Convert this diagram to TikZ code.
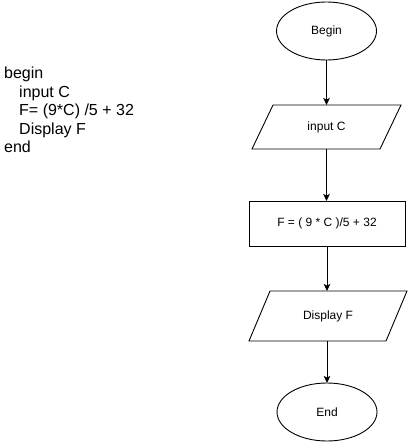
\documentclass[tikz,border=0pt]{standalone}
\usepackage{fontspec}
\setmainfont{Liberation Sans}
\usetikzlibrary{shapes.geometric,arrows.meta}

\tikzset{
  flowline/.style={draw=black, line width=0.9pt},
  nodefont/.style={font=\fontsize{12}{14}\selectfont},
  terminal/.style={flowline, ellipse, minimum width=100pt, minimum height=58pt,
    inner sep=0pt, outer sep=0pt, nodefont},
  process/.style={flowline, rectangle, minimum width=156pt, minimum height=45pt,
    inner sep=0pt, outer sep=0pt, nodefont},
  iobox/.style={rectangle, inner sep=0pt, outer sep=0pt, nodefont},
  codeline/.style={anchor=base west, inner sep=0pt, font=\fontsize{16}{18}\selectfont},
  flowarrow/.style={flowline, -{Stealth[length=7pt,width=6.5pt,inset=1.5pt]}},
}

\begin{document}
\begin{tikzpicture}[x=1pt,y=-1pt]
  \useasboundingbox (0,0) rectangle (408,443);

  % pseudocode listing
  \node[codeline] (l1) at (4,79)    {begin};
  \node[codeline] (l2) at (19,97.5) {input C};
  \node[codeline] (l3) at (19,116)  {F= (9*C) /5 + 32};
  \node[codeline] (l4) at (19,134.5){Display F};
  \node[codeline] (l5) at (4,153)   {end};

  % flowchart
  \node[terminal] (begin) at (326.5,31) {Begin};
  \node[iobox, minimum width=149pt, minimum height=44pt] (input) at (326.5,127) {input C};
  \node[process] (calc) at (327,223.5) {F = ( 9 * C )/5 + 32};
  \node[iobox, minimum width=158pt, minimum height=50pt] (display) at (328,316) {Display F};
  \node[terminal] (end) at (327,412) {End};

  % input/output parallelograms around their text nodes
  \draw[flowline] (input.south west) -- ([xshift=-21pt]input.south east)
    -- (input.north east) -- ([xshift=21pt]input.north west) -- cycle;
  \draw[flowline] (display.south west) -- ([xshift=-21pt]display.south east)
    -- (display.north east) -- ([xshift=21pt]display.north west) -- cycle;

  \draw[flowarrow] (begin.south) -- (input.north -| begin.south);
  \draw[flowarrow] (input.south -| begin.south) -- (calc.north -| begin.south);
  \draw[flowarrow] (calc.south) -- (display.north -| calc.south);
  \draw[flowarrow] (display.south -| calc.south) -- (end.north);
\end{tikzpicture}
\end{document}
